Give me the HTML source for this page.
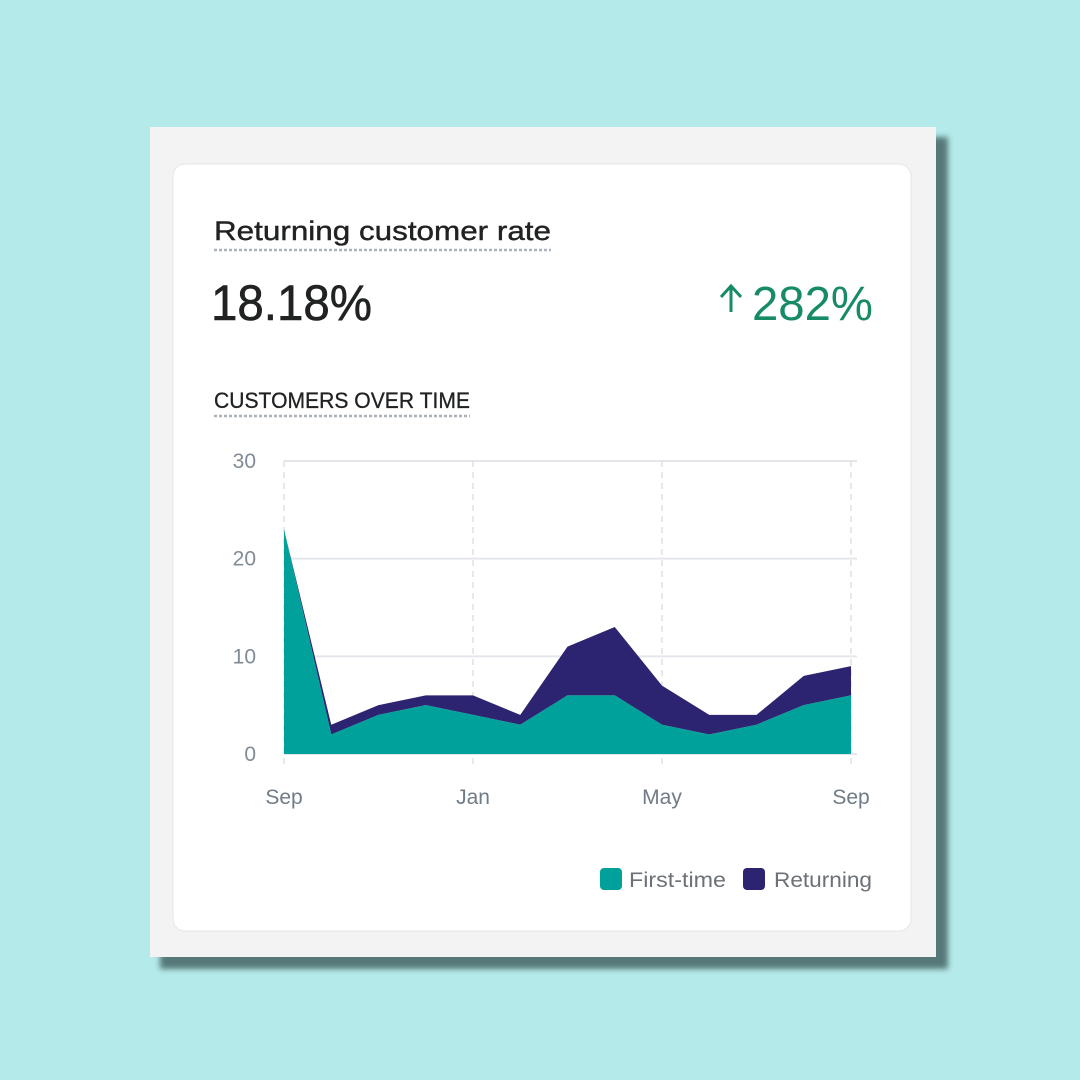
<!DOCTYPE html>
<html><head><meta charset="utf-8"><style>
html,body{margin:0;padding:0;width:1080px;height:1080px;overflow:hidden;background:#b5eaea;}
svg{display:block}
text{font-family:"Liberation Sans",sans-serif;}
</style></head><body>
<svg width="1080" height="1080" viewBox="0 0 1080 1080">
<defs><filter id="blur" x="-10%" y="-10%" width="120%" height="120%"><feGaussianBlur stdDeviation="3"/></filter></defs>
<rect x="160" y="137" width="788" height="832" fill="#2f4a4a" opacity="0.7" filter="url(#blur)"/>
<rect x="150" y="127" width="786" height="830" fill="#f3f3f3"/>
<rect x="173" y="164" width="738" height="767" rx="12" fill="#ffffff" stroke="#e6e6e6"/>
<text x="214" y="240" font-size="27" fill="#202223" stroke="#202223" stroke-width="0.4" textLength="337" lengthAdjust="spacingAndGlyphs">Returning customer rate</text>
<line x1="214" y1="250" x2="551" y2="250" stroke="#a9b1ba" stroke-width="2.5" stroke-dasharray="3,2"/>
<text x="211" y="320" font-size="50" fill="#202223" stroke="#202223" stroke-width="0.6" textLength="161" lengthAdjust="spacingAndGlyphs">18.18%</text>
<g>
<path d="M731 312 V287 M721 297 L731 286 L741 297" stroke="#178a68" stroke-width="3" fill="none"/>
<text x="752" y="320" font-size="48" fill="#178a68" textLength="121" lengthAdjust="spacingAndGlyphs">282%</text>
</g>
<text x="214" y="408" font-size="22" fill="#202223" stroke="#202223" stroke-width="0.3" textLength="256" lengthAdjust="spacingAndGlyphs">CUSTOMERS OVER TIME</text>
<line x1="214" y1="416" x2="470" y2="416" stroke="#a9b1ba" stroke-width="2.5" stroke-dasharray="3,2"/>
<g id="plot"></g>
<g>
<g>
<rect x="600" y="868" width="22" height="22" rx="4" fill="#00a19a"/>
<text x="629" y="887" font-size="21" fill="#6b7177" textLength="97" lengthAdjust="spacingAndGlyphs">First-time</text>
</g>
<g>
<rect x="743" y="868" width="22" height="22" rx="4" fill="#2c2470"/>
<text x="774" y="887" font-size="21" fill="#6b7177" textLength="98" lengthAdjust="spacingAndGlyphs">Returning</text>
</g>
</g>
</svg>
<script>
const months = ['Sep','Oct','Nov','Dec','Jan','Feb','Mar','Apr','May','Jun','Jul','Aug','Sep'];
const firstTime = [23,2,4,5,4,3,6,6,3,2,3,5,6];
const returning = [0,1,1,1,2,1,5,7,4,2,1,3,3];
const yTicks = [0,10,20,30];
const xTickIdx = [0,4,8,12];

{
const NS='http://www.w3.org/2000/svg';
const X0=284,X1=851,Y0=754,Y1=461,YMAX=30;
const xs=i=>X0+(X1-X0)*i/(months.length-1);
const ys=v=>Y0-(Y0-Y1)*v/YMAX;
const plot=document.getElementById('plot');
function mk(tag,attrs){const e=document.createElementNS(NS,tag);for(const k in attrs)e.setAttribute(k,attrs[k]);plot.appendChild(e);return e;}

yTicks.forEach(t=>{
  const l=mk('line',{x1:X0,x2:X1+6,y1:ys(t),y2:ys(t),stroke:'#e3e6ea','stroke-width':2});
  
  
  const tx=mk('text',{x:256,y:ys(t)+7,'font-size':21,fill:'#7f8b96','text-anchor':'end'});
  tx.textContent=t;
  
  
});
xTickIdx.forEach(i=>{
  const l=mk('line',{x1:xs(i),x2:xs(i),y1:Y1,y2:Y0+10,stroke:'#dde1e6','stroke-width':1.5,'stroke-dasharray':'6,5'});
  
  
  const tx=mk('text',{x:xs(i),y:804,'font-size':21,fill:'#6f7b86','text-anchor':'middle'});
  tx.textContent=months[i];
  
  
});
const totals=firstTime.map((v,i)=>v+returning[i]);
let upper='',lower='';
totals.forEach((v,i)=>{upper+=(i?'L':'M')+xs(i)+' '+ys(v)+' ';});
for(let i=firstTime.length-1;i>=0;i--)lower+='L'+xs(i)+' '+ys(firstTime[i])+' ';
const ra=mk('path',{d:upper+lower+'Z',fill:'#2c2470'});


let fp='';
firstTime.forEach((v,i)=>{fp+=(i?'L':'M')+xs(i)+' '+ys(v)+' ';});
fp+='L'+xs(firstTime.length-1)+' '+Y0+' L'+X0+' '+Y0+' Z';
const fa=mk('path',{d:fp,fill:'#00a19a'});


}
</script>
</body></html>
